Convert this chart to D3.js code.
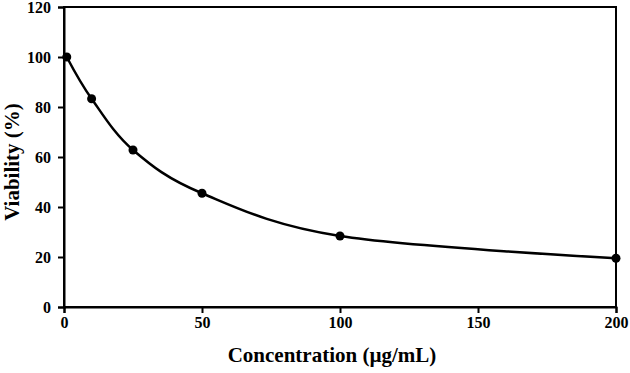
<!DOCTYPE html>
<html>
<head>
<meta charset="utf-8">
<script src="https://cdn.jsdelivr.net/npm/d3@7"></script>
<style>
  body { margin: 0; background: #fff; }
  svg { display: block; }
  .tick text { font-family: "Liberation Serif", "Times New Roman", serif; font-weight: bold; font-size: 16px; fill: #000; }
</style>
</head>
<body>
<svg id="chart"></svg>
<script>
const W = 630, H = 373;
const concentration = [1, 10, 25, 50, 100, 200];
const viability = [100, 83.3, 62.8, 45.5, 28.4, 19.5];
const xTicks = [0, 50, 100, 150, 200];
const yTicks = [0, 20, 40, 60, 80, 100, 120];

const margin = {left: 64, right: 14, top: 7, bottom: 66};
const svg = d3.select("#chart").attr("width", W).attr("height", H);

const x = d3.scaleLinear().domain([0, 200]).range([margin.left, W - margin.right]);
const y = d3.scaleLinear().domain([0, 120]).range([H - margin.bottom, margin.top]);

// frame
svg.append("rect")
  .attr("x", x(0)).attr("y", y(120))
  .attr("width", x(200) - x(0)).attr("height", y(0) - y(120))
  .attr("fill", "none").attr("stroke", "#000").attr("stroke-width", 2);

const xAxis = svg.append("g")
  .attr("transform", "translate(0," + y(0) + ")")
  .call(d3.axisBottom(x).tickValues(xTicks).tickSize(6).tickPadding(4));
const yAxis = svg.append("g")
  .attr("transform", "translate(" + x(0) + ",0)")
  .call(d3.axisLeft(y).tickValues(yTicks).tickSize(6).tickPadding(7));
[xAxis, yAxis].forEach(g => {
  g.select(".domain").attr("stroke-width", 2);
  g.selectAll(".tick line").attr("stroke-width", 2);
});

const pts = concentration.map((c, i) => [c, viability[i]]);
const line = d3.line().x(d => x(d[0])).y(d => y(d[1])).curve(d3.curveCardinal.tension(0));
svg.append("path").datum(pts)
  .attr("d", line).attr("fill", "none").attr("stroke", "#000").attr("stroke-width", 2.5);

svg.selectAll("circle.pt").data(pts).enter().append("circle")
  .attr("class", "pt")
  .attr("cx", d => x(d[0])).attr("cy", d => y(d[1]))
  .attr("r", 4.5).attr("fill", "#000");

svg.append("text")
  .attr("x", 332).attr("y", 362)
  .attr("text-anchor", "middle")
  .style("font-family", "'Liberation Serif', serif").style("font-weight", "bold").style("font-size", "21px")
  .text("Concentration (µg/mL)");

svg.append("text")
  .attr("transform", "translate(19,162) rotate(-90)")
  .attr("text-anchor", "middle")
  .style("font-family", "'Liberation Serif', serif").style("font-weight", "bold").style("font-size", "21px")
  .text("Viability (%)");
</script>
</body>
</html>
